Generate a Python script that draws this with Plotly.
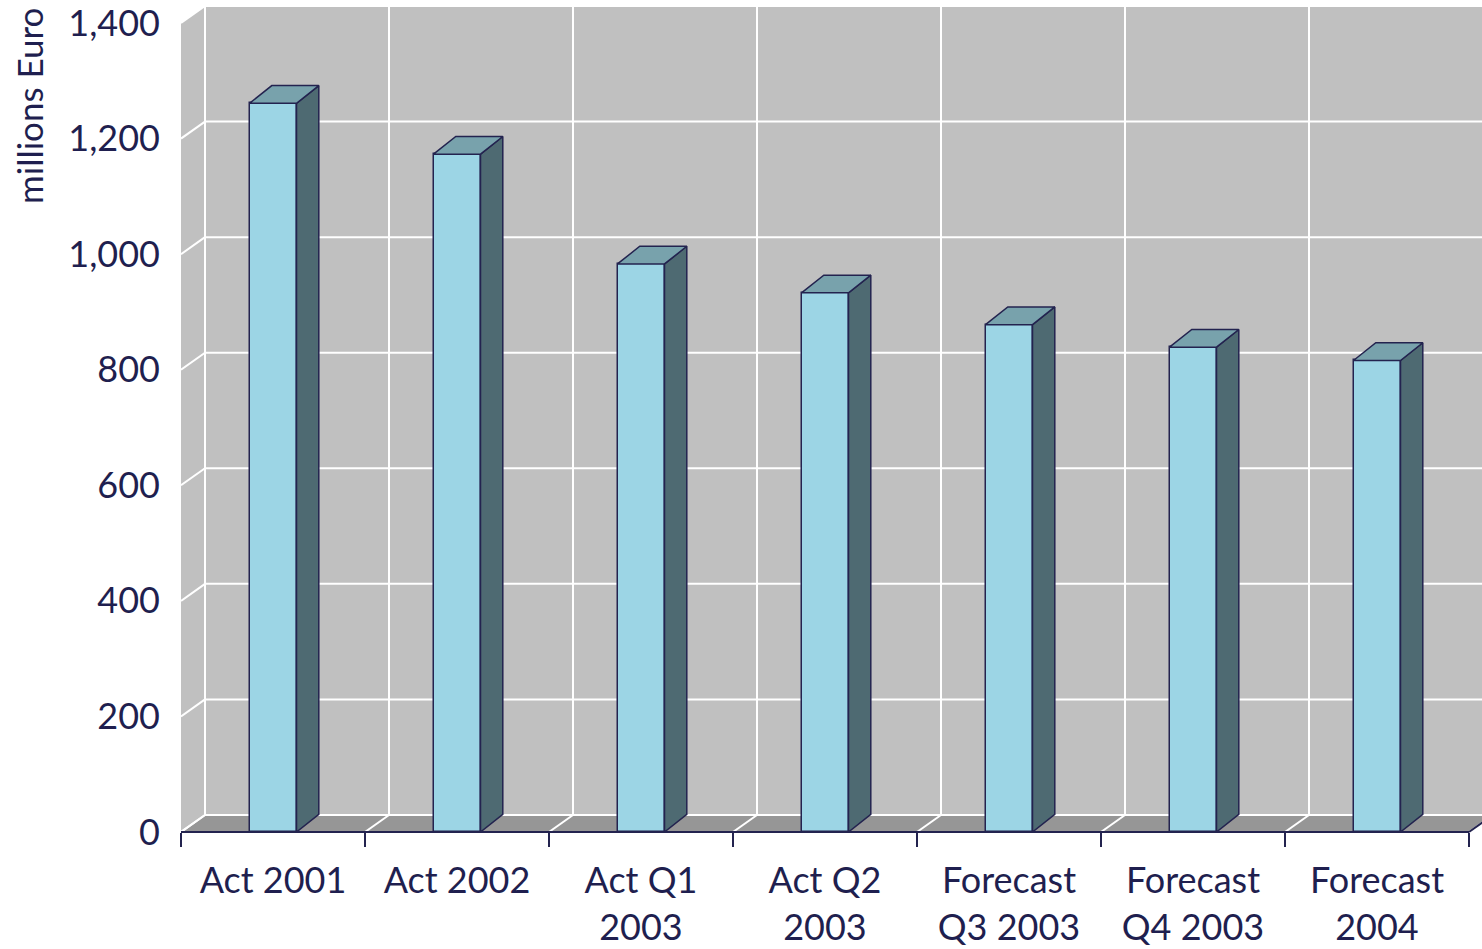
import plotly.graph_objects as go

# Operating costs by period, millions Euro
categories = ["Act 2001", "Act 2002", "Act Q1<br>2003", "Act Q2<br>2003",
              "Forecast<br>Q3 2003", "Forecast<br>Q4 2003", "Forecast<br>2004"]
values = [1261, 1173, 983, 933, 878, 839, 816]
y_ticks = [0, 200, 400, 600, 800, 1000, 1200, 1400]

# pseudo-3D geometry (depth offsets expressed in axis units)
PX_PER_CAT = 184.0
PX_PER_UNIT = 0.578
WALL_DX = 24 / PX_PER_CAT
WALL_DY = 17 / PX_PER_UNIT
BAR_DX = 22.3 / PX_PER_CAT
BAR_DY = 17.7 / PX_PER_UNIT
BAR_W = 47 / PX_PER_CAT

N = len(categories)
X_MIN = -0.5
X_MAX = -0.5 + 1301 / PX_PER_CAT
Y_MAX = y_ticks[-1] + WALL_DY

WALL = "#c0c0c0"
FLOOR = "#969696"
GRID = "#ffffff"
FRONT = "#9cd5e5"
SIDE = "#4e6a72"
TOP = "#78a2ac"
EDGE = "#23234f"
TEXT = "#1f1f4f"
FONT = "Lato"

xs = list(range(N))

shapes = []
left, right = -0.5, N - 0.5

# back wall, side wall and floor
shapes.append(dict(type="rect", xref="x", yref="y", layer="below",
                   x0=left + WALL_DX, x1=right + WALL_DX + 1, y0=WALL_DY, y1=Y_MAX + 10,
                   fillcolor=WALL, line=dict(width=0)))
shapes.append(dict(type="path", xref="x", yref="y", layer="below",
                   path=f"M{left},0 L{left + WALL_DX},{WALL_DY} L{left + WALL_DX},{y_ticks[-1] + WALL_DY} "
                        f"L{left},{y_ticks[-1]} Z",
                   fillcolor=WALL, line=dict(width=0)))
shapes.append(dict(type="path", xref="x", yref="y", layer="below",
                   path=f"M{left},0 L{right},0 L{right + WALL_DX},{WALL_DY} L{left + WALL_DX},{WALL_DY} Z",
                   fillcolor=FLOOR, line=dict(width=0)))

# value gridlines on back and side walls
for v in y_ticks:
    shapes.append(dict(type="line", xref="x", yref="y", layer="below",
                       x0=left + WALL_DX, x1=right + WALL_DX, y0=v + WALL_DY, y1=v + WALL_DY,
                       line=dict(color=GRID, width=2)))
    shapes.append(dict(type="line", xref="x", yref="y", layer="below",
                       x0=left, x1=left + WALL_DX, y0=v, y1=v + WALL_DY,
                       line=dict(color=GRID, width=2)))

# category gridlines on back wall and floor
for k in range(N + 1):
    xb = left + k
    shapes.append(dict(type="line", xref="x", yref="y", layer="below",
                       x0=xb + WALL_DX, x1=xb + WALL_DX, y0=WALL_DY, y1=y_ticks[-1] + WALL_DY,
                       line=dict(color=GRID, width=2)))
    shapes.append(dict(type="line", xref="x", yref="y", layer="below",
                       x0=xb, x1=xb + WALL_DX, y0=0, y1=WALL_DY,
                       line=dict(color=GRID, width=2)))

# category axis baseline and floor end edge (domain refs so they are not clipped)
def dom_x(x):
    return (x - X_MIN) / (X_MAX - X_MIN)

def dom_y(y):
    return y / Y_MAX

shapes.append(dict(type="line", xref="x domain", yref="y domain", layer="above",
                   x0=dom_x(left), x1=dom_x(right), y0=0, y1=0,
                   line=dict(color=EDGE, width=2)))
shapes.append(dict(type="line", xref="x domain", yref="y domain", layer="above",
                   x0=dom_x(right), x1=dom_x(right + WALL_DX), y0=0, y1=dom_y(WALL_DY),
                   line=dict(color=EDGE, width=2)))

fig = go.Figure()

# front faces
fig.add_trace(go.Bar(x=xs, y=values, width=BAR_W, marker=dict(color=FRONT, line=dict(color=EDGE, width=1.5)),
                     hoverinfo="skip", showlegend=False))

# side faces
sx, sy = [], []
for x, v in zip(xs, values):
    r = x + BAR_W / 2
    sx += [r, r + BAR_DX, r + BAR_DX, r, r, None]
    sy += [0, BAR_DY, v + BAR_DY, v, 0, None]
fig.add_trace(go.Scatter(x=sx, y=sy, mode="lines", fill="toself", fillcolor=SIDE,
                         line=dict(color=EDGE, width=1.5), hoverinfo="skip", showlegend=False))

# top faces
tx, ty = [], []
for x, v in zip(xs, values):
    l, r = x - BAR_W / 2, x + BAR_W / 2
    tx += [l, r, r + BAR_DX, l + BAR_DX, l, None]
    ty += [v, v, v + BAR_DY, v + BAR_DY, v, None]
fig.add_trace(go.Scatter(x=tx, y=ty, mode="lines", fill="toself", fillcolor=TOP,
                         line=dict(color=EDGE, width=1.5), hoverinfo="skip", showlegend=False))

fig.update_layout(
    width=1482, height=949, autosize=False,
    margin=dict(l=181, r=0, t=6, b=117, pad=0),
    paper_bgcolor="white", plot_bgcolor="white",
    font=dict(family=FONT, color=TEXT),
    shapes=shapes,
    xaxis=dict(range=[X_MIN, X_MAX], tickvals=xs, ticktext=categories, ticks="",
               showgrid=False, zeroline=False, showline=False,
               tickfont=dict(family=FONT, size=36, color=TEXT), ticklabelstandoff=24,
               ticklabeloverflow="allow",
               minor=dict(tickmode="linear", tick0=-0.5, dtick=1, ticks="outside", ticklen=14,
                          tickwidth=2, tickcolor=EDGE, showgrid=False)),
    yaxis=dict(range=[0, Y_MAX], tickvals=y_ticks, tickformat=",", ticks="",
               showgrid=False, zeroline=False, showline=False, ticklabeloverflow="allow",
               tickfont=dict(family=FONT, size=36, color=TEXT), ticklabelstandoff=20),
    annotations=[dict(text="millions Euro", xref="paper", yref="paper",
                      x=(29 - 181) / 1301, y=(832 - 106) / 826, textangle=-90,
                      showarrow=False, xanchor="center", yanchor="middle",
                      font=dict(family=FONT, size=35, color=TEXT))],
    bargap=0,
)

fig.write_html("out.html")
